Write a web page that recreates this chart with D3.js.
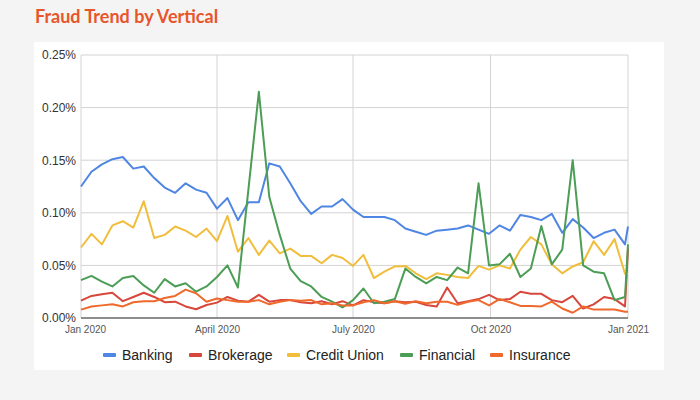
<!DOCTYPE html>
<html>
<head>
<meta charset="utf-8">
<script src="https://cdn.jsdelivr.net/npm/d3@7"></script>
<style>
  body { margin: 0; background-color: #f4f4f4; }
</style>
</head>
<body>
<div id="canvas"></div>
<script>
var width = 700;
var height = 400;
var margin = { top: 55, right: 72, bottom: 82, left: 81 };

// weekly points, plus the partial week at the very end
var startDate = new Date(2020, 0, 1);
var endDate = new Date(2021, 0, 1);
var weekCount = 53;

var seriesNames = ["Banking", "Brokerage", "Credit Union", "Financial", "Insurance"];
var seriesColors = ["#4f86e3", "#d7473b", "#f1bd3c", "#4c9d55", "#f0692c"];

// values in percent
var banking = [0.125, 0.139, 0.146, 0.151, 0.153, 0.142, 0.144, 0.133, 0.124, 0.119,
    0.128, 0.122, 0.119, 0.104, 0.114, 0.093, 0.110, 0.110, 0.147, 0.144,
    0.128, 0.111, 0.099, 0.106, 0.106, 0.113, 0.103, 0.096, 0.096, 0.096,
    0.093, 0.085, 0.082, 0.079, 0.083, 0.084, 0.085, 0.088, 0.084, 0.080,
    0.088, 0.083, 0.098, 0.096, 0.093, 0.099, 0.081, 0.094, 0.086, 0.076,
    0.081, 0.084, 0.070, 0.087];
var brokerage = [0.0165, 0.021, 0.0225, 0.024, 0.016, 0.020, 0.024, 0.020, 0.015, 0.0155,
    0.011, 0.0083, 0.0124, 0.0146, 0.020, 0.0165, 0.0155, 0.022, 0.0155, 0.017,
    0.017, 0.015, 0.014, 0.016, 0.013, 0.016, 0.012, 0.017, 0.015, 0.014,
    0.016, 0.015, 0.0155, 0.0124, 0.011, 0.029, 0.014, 0.016, 0.018, 0.022,
    0.017, 0.018, 0.025, 0.023, 0.023, 0.017, 0.015, 0.021, 0.009, 0.013,
    0.020, 0.018, 0.011, 0.066];
var creditUnion = [0.067, 0.080, 0.070, 0.088, 0.092, 0.086, 0.111, 0.076, 0.079, 0.087,
    0.083, 0.077, 0.085, 0.073, 0.097, 0.063, 0.076, 0.060, 0.0735, 0.0615,
    0.066, 0.059, 0.059, 0.052, 0.060, 0.057, 0.0495, 0.060, 0.038, 0.044,
    0.049, 0.0495, 0.0425, 0.037, 0.0425, 0.041, 0.039, 0.038, 0.0495, 0.046,
    0.050, 0.047, 0.065, 0.077, 0.070, 0.051, 0.0425, 0.049, 0.053, 0.073,
    0.060, 0.075, 0.042, 0.042];
var financial = [0.036, 0.040, 0.0345, 0.030, 0.038, 0.040, 0.031, 0.024, 0.037, 0.030,
    0.033, 0.025, 0.030, 0.039, 0.050, 0.029, 0.122, 0.215, 0.115, 0.079,
    0.047, 0.035, 0.030, 0.020, 0.0155, 0.010, 0.017, 0.028, 0.014, 0.0155,
    0.018, 0.047, 0.039, 0.033, 0.039, 0.036, 0.048, 0.0425, 0.128, 0.050,
    0.051, 0.061, 0.039, 0.047, 0.0875, 0.051, 0.065, 0.150, 0.050, 0.044,
    0.0425, 0.017, 0.020, 0.070];
var insurance = [0.008, 0.011, 0.012, 0.013, 0.011, 0.015, 0.016, 0.016, 0.019, 0.021,
    0.027, 0.0235, 0.0155, 0.0185, 0.017, 0.0155, 0.0155, 0.017, 0.013, 0.0155,
    0.017, 0.0165, 0.017, 0.013, 0.014, 0.012, 0.012, 0.015, 0.017, 0.014,
    0.016, 0.0135, 0.016, 0.014, 0.0155, 0.0155, 0.0125, 0.0155, 0.017, 0.012,
    0.018, 0.015, 0.0115, 0.0115, 0.011, 0.0155, 0.009, 0.005, 0.011, 0.008,
    0.008, 0.008, 0.006, 0.006];

var yTicks = [0, 0.05, 0.10, 0.15, 0.20, 0.25];
var xTicks = [new Date(2020, 0, 1), new Date(2020, 3, 1), new Date(2020, 6, 1), new Date(2020, 9, 1), new Date(2021, 0, 1)];
var xTickLabels = ["Jan 2020", "April 2020", "July 2020", "Oct 2020", "Jan 2021"];

var dates = d3.range(weekCount).map(i => d3.timeDay.offset(startDate, i * 7));
dates.push(endDate);

var allSeries = [banking, brokerage, creditUnion, financial, insurance];

var plotWidth = width - margin.left - margin.right;
var plotHeight = height - margin.top - margin.bottom;

var svg = d3.select("#canvas")
    .append("svg")
    .attr("width", width)
    .attr("height", height)
    .style("display", "block");

// white card
svg.append("rect")
    .attr("x", 34)
    .attr("y", 42)
    .attr("width", 630)
    .attr("height", 328)
    .attr("fill", "#ffffff");

svg.append("text")
    .attr("x", 35)
    .attr("y", 23)
    .attr("font-family", "Lato, 'Open Sans', sans-serif")
    .attr("font-weight", "bold")
    .attr("font-size", "18px")
    .attr("fill", "#e8552b")
    .text("Fraud Trend by Vertical");

var canvas = svg.append("g")
    .attr("transform", "translate(" + margin.left + "," + margin.top + ")");

var xScale = d3.scaleTime()
    .domain([startDate, endDate])
    .range([0, plotWidth]);

var yScale = d3.scaleLinear()
    .domain([0, 0.25])
    .range([plotHeight, 0]);

// horizontal grid
canvas.append("g")
    .selectAll("line")
    .data(yTicks)
    .join("line")
    .attr("x1", 0)
    .attr("x2", plotWidth)
    .attr("y1", d => yScale(d))
    .attr("y2", d => yScale(d))
    .attr("stroke", "#d3d3d3")
    .attr("stroke-width", 1);

// vertical grid
canvas.append("g")
    .selectAll("line")
    .data(xTicks)
    .join("line")
    .attr("x1", d => xScale(d))
    .attr("x2", d => xScale(d))
    .attr("y1", 0)
    .attr("y2", plotHeight)
    .attr("stroke", "#d3d3d3")
    .attr("stroke-width", 1);

var yAxis = d3.axisLeft(yScale)
    .tickValues(yTicks)
    .tickSize(0)
    .tickPadding(5)
    .tickFormat(d => d.toFixed(2) + "%");

var yAxisG = canvas.append("g").call(yAxis);
yAxisG.select(".domain").remove();
yAxisG.selectAll("text")
    .attr("font-family", "'Liberation Sans', Arial, sans-serif")
    .attr("font-size", "12px")
    .attr("fill", "#333");

var xAxis = d3.axisBottom(xScale)
    .tickValues(xTicks)
    .tickSize(0)
    .tickPadding(8)
    .tickFormat((d, i) => xTickLabels[i]);

var xAxisG = canvas.append("g")
    .attr("transform", `translate(0, ${plotHeight})`)
    .call(xAxis);
xAxisG.select(".domain").remove();
xAxisG.selectAll("text")
    .attr("font-family", "'Liberation Sans', Arial, sans-serif")
    .attr("font-size", "10px")
    .attr("fill", "#555");
// first label sits right of the y labels
xAxisG.selectAll("text").filter((d, i) => i === 0)
    .attr("dx", "4px");

var line = d3.line()
    .x((d, i) => xScale(dates[i]))
    .y(d => yScale(d));

allSeries.forEach((values, k) => {
    canvas.append("path")
        .datum(values)
        .attr("d", line)
        .attr("fill", "none")
        .attr("stroke", seriesColors[k])
        .attr("stroke-width", 2)
        .attr("stroke-linejoin", "round");
});

// baseline
canvas.append("line")
    .attr("x1", 0)
    .attr("x2", plotWidth)
    .attr("y1", plotHeight)
    .attr("y2", plotHeight)
    .attr("stroke", "#333")
    .attr("stroke-width", 1);

// legend
var legendTextX = [122, 208, 306, 419, 509];
var legend = svg.append("g")
    .attr("transform", "translate(0, 355)");

seriesNames.forEach((name, k) => {
    legend.append("rect")
        .attr("x", legendTextX[k] - 19)
        .attr("y", -2)
        .attr("width", 13)
        .attr("height", 4)
        .attr("rx", 1)
        .attr("fill", seriesColors[k]);
    legend.append("text")
        .attr("x", legendTextX[k])
        .attr("y", 5)
        .attr("font-family", "'Liberation Sans', Arial, sans-serif")
        .attr("font-size", "14px")
        .attr("fill", "#222")
        .text(name);
});
</script>
</body>
</html>
